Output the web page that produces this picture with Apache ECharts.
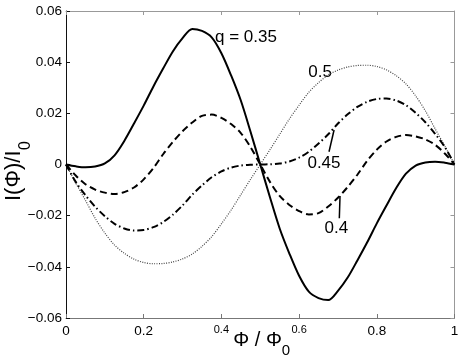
<!DOCTYPE html>
<html><head><meta charset="utf-8">
<script src="https://cdn.jsdelivr.net/npm/echarts@6/dist/echarts.min.js"></script>
<style>html,body{margin:0;padding:0;background:#fff}#c{width:463px;height:361px}</style>
</head><body><div id="c"></div>
<script>
// flux Φ/Φ0
const phi = [0,0.025,0.05,0.075,0.1,0.125,0.15,0.175,0.2,0.225,0.25,0.275,0.3,0.325,0.35,0.375,0.4,0.425,0.45,0.475,0.5,
             0.525,0.55,0.575,0.6,0.625,0.65,0.675,0.7,0.725,0.75,0.775,0.8,0.825,0.85,0.875,0.9,0.925,0.95,0.975,1];
// q = 0.35 (solid)
const q035 = [0,-0.0007,-0.0011,-0.0008,0.0004,0.0036,0.0092,0.0160,0.0230,0.0305,0.0375,0.0442,0.0494,0.0530,0.0522,0.0497,0.0435,0.0348,0.0250,0.0128,0,
              -0.0128,-0.0250,-0.0348,-0.0435,-0.0497,-0.0522,-0.0530,-0.0494,-0.0442,-0.0375,-0.0305,-0.0230,-0.0160,-0.0092,-0.0036,-0.0004,0.0008,0.0011,0.0007,0];
// q = 0.4 (dashed)
const q040 = [0,-0.0043,-0.0077,-0.0098,-0.0110,-0.0115,-0.0108,-0.0090,-0.0058,-0.0014,0.0040,0.0088,0.0130,0.0164,0.0190,0.0195,0.0182,0.0158,0.0123,0.0068,0,
              -0.0068,-0.0123,-0.0158,-0.0182,-0.0195,-0.0190,-0.0164,-0.0130,-0.0088,-0.0040,0.0014,0.0058,0.0090,0.0108,0.0115,0.0110,0.0098,0.0077,0.0043,0];
// q = 0.45 (dash-dot)
const q045 = [0,-0.0068,-0.0120,-0.0165,-0.0202,-0.0232,-0.0250,-0.0258,-0.0256,-0.0245,-0.0225,-0.0196,-0.0160,-0.0118,-0.0082,-0.0050,-0.0027,-0.0012,-0.0004,-0.0001,0,
              0.0001,0.0004,0.0012,0.0027,0.0050,0.0082,0.0118,0.0160,0.0196,0.0225,0.0245,0.0256,0.0258,0.0250,0.0232,0.0202,0.0165,0.0120,0.0068,0];
// q = 0.5 (dotted)
const q050 = [0,-0.0072,-0.0140,-0.0210,-0.0268,-0.0315,-0.0347,-0.0370,-0.0383,-0.0388,-0.0387,-0.0381,-0.0369,-0.0350,-0.0320,-0.0282,-0.0232,-0.0178,-0.0118,-0.0058,0,
              0.0058,0.0118,0.0178,0.0232,0.0282,0.0320,0.0350,0.0369,0.0381,0.0387,0.0388,0.0383,0.0370,0.0347,0.0315,0.0268,0.0210,0.0140,0.0072,0];

const xTicks = [0,0.2,0.4,0.6,0.8,1];
const yTicks = [-0.06,-0.04,-0.02,0,0.02,0.04,0.06];

// annotation texts and their anchor points (data coords)
const noteText = ['q = 0.35','0.5','0.45','0.4'];
const noteX    = [0.3835,0.654,0.664,0.696];
const noteY    = [0.0496,0.0359,0.0006,-0.0248];
const noteAlign= ['left','center','center','center'];
// arrows: [fromX, fromY] -> [toX, toY]
const arrowFrom = [[0.677,0.0050],[0.7035,-0.0210]];
const arrowTo   = [[0.690,0.0135],[0.7053,-0.0123]];

const FONT = 'Liberation Sans, Arial, Helvetica, sans-serif';
const pts = ys => phi.map((x,i)=>[x, ys[i]]);
const xFmt = v => { const r = Math.round(v*10)/10; const s = String(r); return (r===0.4||r===0.6) ? '{s|'+s+'}' : s; };
const yFmt = v => { const r = Math.round(v*100)/100; if (r===0) return '0'; return (r<0?'\u2212':'') + Math.abs(r).toFixed(2); };

const chart = echarts.init(document.getElementById('c'));
const axisBase = (extra) => Object.assign({
  type:'value', splitLine:{show:false},
  axisTick:{show:true, inside:true, length:4},
}, extra);
const lineCommon = {showSymbol:false, smooth:0.3, silent:true};

chart.setOption({
  animation:false,
  backgroundColor:'#fff',
  grid:{left:66, right:8.5, top:11, bottom:43, containLabel:false},
  xAxis:[
    axisBase({min:0, max:1, interval:0.2, position:'bottom',
      axisLine:{show:true, onZero:false, lineStyle:{color:'#777', width:1}},
      axisTick:{show:true, inside:true, length:4, lineStyle:{color:'#777'}},
      axisLabel:{show:true, margin:6, color:'#000', fontSize:13.5, fontFamily:FONT, formatter:xFmt,
        rich:{s:{fontSize:11, fontFamily:FONT, color:'#000'}}}}),
    axisBase({min:0, max:1, interval:0.2, position:'top',
      axisLine:{show:true, onZero:false, lineStyle:{color:'#999', width:1}},
      axisTick:{show:true, inside:true, length:4, lineStyle:{color:'#999'}},
      axisLabel:{show:false}})
  ],
  yAxis:[
    axisBase({min:-0.06, max:0.06, interval:0.02, position:'left',
      axisLine:{show:true, onZero:false, lineStyle:{color:'#111', width:1}},
      axisTick:{show:true, inside:true, length:4, lineStyle:{color:'#111'}},
      axisLabel:{show:true, margin:4, color:'#000', fontSize:13.5, fontFamily:FONT, formatter:yFmt}}),
    axisBase({min:-0.06, max:0.06, interval:0.02, position:'right',
      axisLine:{show:true, onZero:false, lineStyle:{color:'#999', width:1}},
      axisTick:{show:true, inside:true, length:4, lineStyle:{color:'#999'}},
      axisLabel:{show:false}})
  ],
  series:[
    Object.assign({type:'line', name:'q=0.5', data:pts(q050),
      lineStyle:{color:'#444', width:1.2, type:[1,1.4]}}, lineCommon),
    Object.assign({type:'line', name:'q=0.45', data:pts(q045),
      lineStyle:{color:'#000', width:2, type:[7,3,1.5,3]}}, lineCommon),
    Object.assign({type:'line', name:'q=0.4', data:pts(q040),
      lineStyle:{color:'#000', width:2, type:[7,4]}}, lineCommon),
    Object.assign({type:'line', name:'q=0.35', data:pts(q035),
      lineStyle:{color:'#000', width:2},
      markLine:{silent:true, animation:false, symbol:['none','arrow'], symbolSize:[0,9],
        label:{show:false}, lineStyle:{color:'#000', width:1.5, type:'solid'},
        emphasis:{disabled:true},
        data: arrowFrom.map((f,i)=>[{coord:f},{coord:arrowTo[i]}])}}, lineCommon)
  ]
});

const els = [];
noteText.forEach((t,i)=>{
  const p = chart.convertToPixel({xAxisIndex:0, yAxisIndex:0}, [noteX[i], noteY[i]]);
  els.push({type:'text', x:p[0], y:p[1], silent:true,
    style:{text:t, fontSize:17, fontFamily:FONT, fill:'#000',
      align:noteAlign[i], textAlign:noteAlign[i], verticalAlign:'middle', textVerticalAlign:'middle'}});
});
// x-axis title  Φ / Φ0
const gl = 66, gr = 463-8.5;
const xc = (gl+gr)/2;
els.push({type:'group', x:xc-27, y:340, silent:true, children:[
  {type:'text', x:0, y:0, style:{text:'\u03A6 / \u03A6', fontSize:20, fontFamily:FONT, fill:'#000', align:'left', textAlign:'left', verticalAlign:'middle', textVerticalAlign:'middle'}},
  {type:'text', x:48.5, y:11, style:{text:'0', fontSize:15, fontFamily:FONT, fill:'#000', align:'left', textAlign:'left', verticalAlign:'middle', textVerticalAlign:'middle'}}
]});
// y-axis title  I(Φ)/I0
els.push({type:'group', x:14, y:201, rotation:Math.PI/2, silent:true, children:[
  {type:'text', x:0, y:0, style:{text:'I(\u03A6)/I', fontSize:22, fontFamily:FONT, fill:'#000', align:'left', textAlign:'left', verticalAlign:'middle', textVerticalAlign:'middle'}},
  {type:'text', x:51, y:12, style:{text:'0', fontSize:16, fontFamily:FONT, fill:'#000', align:'left', textAlign:'left', verticalAlign:'middle', textVerticalAlign:'middle'}}
]});
chart.setOption({graphic:{elements:els}});
</script></body></html>
